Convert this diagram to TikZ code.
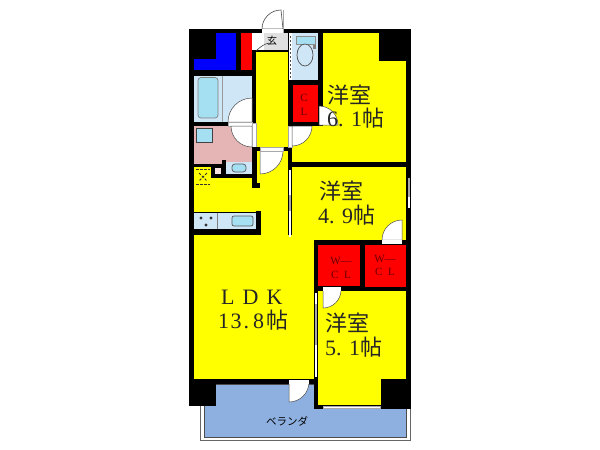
\documentclass[tikz,border=0pt]{standalone}
\usepackage{fontspec}
\newfontfamily\cjk{Noto Sans CJK JP}
\newfontfamily\ser{Liberation Serif}
\definecolor{yel}{HTML}{FFFF00}
\definecolor{red1}{HTML}{FF0000}
\definecolor{blu}{HTML}{0000FF}
\definecolor{ltb}{HTML}{CFE6F7}
\definecolor{tub}{HTML}{A5DFF2}
\definecolor{pink}{HTML}{E5B5B5}
\definecolor{ver}{HTML}{8DB0E0}
\definecolor{grayw}{HTML}{A8A8A8}
\tikzset{x=1pt,y=-1pt,
 wall/.style={fill=black,draw=none},
 room/.style={fill=yel,draw=none},
 lbl/.style={font=\cjk\fontsize{22}{24}\selectfont,text=black!85,inner sep=0pt,anchor=west},
 small/.style={font=\ser\fontsize{11}{12}\selectfont,text=black!60!red,inner sep=0pt},
 door/.style={fill=white,draw=black!70,line width=.6pt},
 strip/.style={fill=white,draw=grayw,line width=.5pt},
 fixt/.style={fill=tub,draw=black!65,line width=.7pt}}
\newcommand{\dg}[1]{{\ser #1}}
\begin{document}
\begin{tikzpicture}
\useasboundingbox (0,0) rectangle (600,450);
\fill[white] (0,0) rectangle (600,450);
% balcony
\draw[draw=black!60,line width=.8pt] (200,395) -- (200,440) -- (410,440) -- (410,395);
\fill[ver,draw=black!70,line width=.6pt] (204,384) rectangle (406.5,437);
% walls
\fill[wall] (189,29) rectangle (411,384);
\fill[wall] (314,384) rectangle (411,409);
\fill[wall] (189,384) rectangle (216,406);
% rooms
\fill[room] (323,33) rectangle (406,162);
\fill[room] (292,126) rectangle (323,162);
\fill[wall] (379,29) rectangle (411,61);
\fill[room] (292,167) rectangle (406,240);
\fill[room] (318,291) rectangle (406,405);
\fill[wall] (381,379) rectangle (411,409);
\fill[room] (256,52) rectangle (288,147);
\fill[room] (257,151) rectangle (288,240);
\fill[room] (194,178) rectangle (288,212);
\fill[room] (194,167) rectangle (211,178);
\fill[room] (194,235) rectangle (314,379);
\fill[room] (261,212) rectangle (288,244);
\fill[room] (261,240) rectangle (314,300);
\fill[wall] (252,147) rectangle (256.5,188);
\fill[wall] (252,183) rectangle (260,188);
% top left
\fill[blu] (216,33) rectangle (236,70);
\fill[blu] (194,59) rectangle (236,70);
\fill[red1] (240.5,33) rectangle (251.5,70);
% entrance
\fill[black!12] (252,33) rectangle (288,50);
\fill[white] (252,33) rectangle (264,50);
\draw[black!75,line width=.6pt] (256,51) .. controls (260,47) and (264,44) .. (269,43);
\draw[door] (283,29) -- (262,29) arc[start angle=180,end angle=270,radius=19] -- cycle;
\draw[grayw,line width=1pt] (283,10) -- (283,33);
\fill[white] (262,29.3) rectangle (282.5,33);
\node[font=\cjk\fontsize{10}{10}\selectfont,inner sep=0pt] (gen) at (272,41) {玄};
% bath
\fill[ltb] (194,76) rectangle (252,122);
\fill[tub,draw=black!50,line width=.7pt,rounded corners=3pt] (198,77.5) rectangle (218,118);
\draw[black!40,line width=.6pt] (222,76) -- (222,122);
\draw[door,line width=.5pt] (252,122) -- (228,122) arc[start angle=180,end angle=270,radius=24] -- cycle;
% washroom
\fill[pink] (194,126) rectangle (252,164);
\fill[white] (228,122) rectangle (252,126);
\draw[grayw,line width=.5pt] (228,122) rectangle (252,126);
\draw[door,line width=.5pt] (252,126) -- (231,126) arc[start angle=180,end angle=90,radius=21] -- cycle;
\fill[strip] (252,123) rectangle (256,147);
\fill[tub,draw=black!75,line width=1pt] (196,128) rectangle (212,142);
\fill[ltb] (226,162) rectangle (252,174);
\draw[fixt,rounded corners=3pt] (232,164) rectangle (246,172);
\fill[wall] (194,164) rectangle (226,167);
\fill[wall] (222,160) rectangle (226,178);
\fill[wall] (211,164) rectangle (214,178);
\fill[wall] (211,174) rectangle (256.5,178);
\fill[pink!40] (215,168) rectangle (220.5,173.5);
% washer
\draw[black!80,dash pattern=on 2.5pt off 1.5pt,line width=.8pt] (196,169) -- (210,169) (196,184) -- (210,184);
\draw[black!80,dash pattern=on 2.5pt off 1.5pt,line width=.8pt] (199,173) -- (207,181) (207,173) -- (199,181);
% corridor door
\fill[wall] (252,147) rectangle (292,151);
\draw[door,line width=.5pt] (260,151) -- (283,151) arc[start angle=0,end angle=90,radius=23] -- cycle;
\fill[strip] (260,147.5) rectangle (283,151);
% kitchen
\fill[ltb] (194,213) rectangle (256,229);
\draw[black!50,line width=.5pt] (217,213) -- (217,229);
\fill[black!80] (201,218) circle (1.7) (211,218) circle (1.7) (206,225) circle (1.7);
\draw[fixt,rounded corners=2pt] (232,216) rectangle (253,226);
\fill[wall] (189,229) rectangle (261,235);
\fill[wall] (256,211) rectangle (261,235);
% toilet
\fill[ltb] (292,33) rectangle (318,80);
\draw[black!45,line width=.5pt,fill=tub] (296,36) rectangle (315,44);
\draw[black!70,line width=.7pt,fill=ltb] (305,55) ellipse (8 and 11);
\fill[black!50] (313,45) rectangle (316,49);
\fill[white] (288.5,33) rectangle (291.5,80);
\draw[black!70,dash pattern=on 2pt off 2pt,line width=.8pt] (290,36) -- (290,78);
% closet
\fill[red1] (292.5,85) rectangle (318,122);
\node[small] (c1) at (304,98) {C};
\node[small] (l1) at (304,112) {L};
\draw[door,line width=.5pt] (319,125) -- (338,125) arc[start angle=0,end angle=-90,radius=19] -- cycle;
% room 1 door
\fill[strip] (288.5,126) rectangle (292,147);
\draw[door,line width=.5pt] (292,126) -- (312,126) arc[start angle=0,end angle=90,radius=20] -- cycle;
% windows
\fill[white] (288.5,170) rectangle (291,237);
\fill[grayw] (288.5,195) rectangle (291,211);
\fill[white] (407.5,178) rectangle (410,208);
\fill[grayw] (407.5,178) rectangle (410,197);
% room 2 door
\draw[door,line width=.5pt] (402,240) -- (382,240) arc[start angle=180,end angle=270,radius=20] -- cycle;
\fill[white] (382,240) rectangle (402,244);
% WCL
\fill[red1] (318,245) rectangle (360,286);
\fill[red1] (364.5,245) rectangle (406,287);
\node[small] (w1) at (341,261) {W—};
\node[small] (cl1) at (341,275) {C\,\,\,L};
\node[small] (w2) at (385,259) {W—};
\node[small] (cl2) at (385,272) {C\,\,\,L};
% room 3 door
\draw[door,line width=.5pt] (323,290) -- (341,290) arc[start angle=0,end angle=90,radius=18] -- cycle;
\fill[white] (323,287) rectangle (341,291);
\fill[white] (315,293) rectangle (317,377);
\fill[grayw] (315,304) rectangle (317,345);
% balcony door
\draw[door,line width=.5pt] (289,382) -- (309,382) arc[start angle=0,end angle=90,radius=20] -- cycle;
\fill[white] (289,380) rectangle (309,384);
% bottom window
\fill[strip] (323,406) rectangle (380,408);
% labels
\node[lbl] (r1a) at (327,95) {洋室};
\node[lbl] (r1b) at (327,118) {\dg{6.\,\,1}帖};
\node[lbl] (r2a) at (319,191) {洋室};
\node[lbl] (r2b) at (318,215) {\dg{4.\,\,9}帖};
\node[lbl] (r3a) at (325,323) {洋室};
\node[lbl] (r3b) at (325,347) {\dg{5.\,\,1}帖};
\node[lbl] (r4a) at (221,297) {\dg{L\hspace{8pt}D\hspace{8pt}K}};
\node[lbl] (r4b) at (218,320) {\dg{1\hspace{1.5pt}3\hspace{2pt}.\hspace{4pt}8}\hspace{2pt}帖};
\node[font=\cjk\fontsize{10.5}{11}\selectfont,inner sep=0pt] (b) at (287,421) {ベランダ};
\end{tikzpicture}
\end{document}
